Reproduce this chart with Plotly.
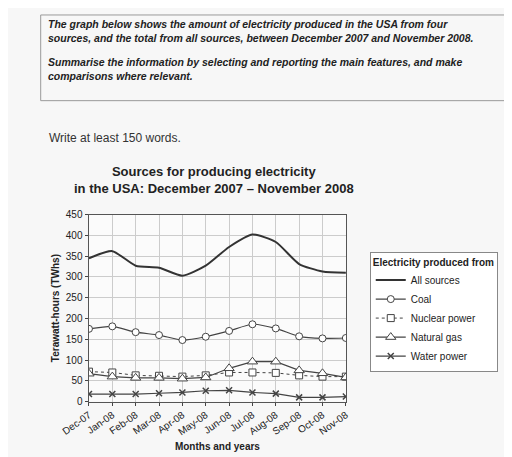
import plotly.graph_objects as go

months = ["Dec-07","Jan-08","Feb-08","Mar-08","Apr-08","May-08","Jun-08","Jul-08","Aug-08","Sep-08","Oct-08","Nov-08"]
all_sources = [345,362,327,322,303,327,372,402,384,331,313,310]
coal = [175,181,167,160,148,156,170,186,176,157,152,153]
nuclear = [72,70,63,62,60,63,70,70,69,63,60,60]
natural_gas = [67,60,57,57,55,58,80,96,96,75,68,58]
water = [18,18,18,20,22,26,27,22,19,10,10,12]
y_ticks = [0,50,100,150,200,250,300,350,400,450]

W, H = 512, 457
def px(x): return x / W
def py(y): return 1 - y / H

fig = go.Figure()
c = "#444"
fig.add_trace(go.Scatter(x=months, y=all_sources, name="All sources", mode="lines",
                         line=dict(color="#333", width=2, shape="spline", smoothing=0.6)))
fig.add_trace(go.Scatter(x=months, y=coal, name="Coal", mode="lines+markers",
                         line=dict(color=c, width=1.2, shape="spline", smoothing=0.6),
                         marker=dict(symbol="circle", size=7, color="white", line=dict(color=c, width=1))))
fig.add_trace(go.Scatter(x=months, y=nuclear, name="Nuclear power", mode="lines+markers",
                         line=dict(color=c, width=1, dash="dot"),
                         marker=dict(symbol="square", size=7, color="white", line=dict(color=c, width=1))))
fig.add_trace(go.Scatter(x=months, y=natural_gas, name="Natural gas", mode="lines+markers",
                         line=dict(color=c, width=1.2),
                         marker=dict(symbol="triangle-up", size=9, color="white", line=dict(color=c, width=1))))
fig.add_trace(go.Scatter(x=months, y=water, name="Water power", mode="lines+markers",
                         line=dict(color=c, width=1.2),
                         marker=dict(symbol="x-thin", size=6, color=c, line=dict(color=c, width=1.5))))

fig.update_layout(
    width=W, height=H, margin=dict(l=0, r=0, t=0, b=0),
    paper_bgcolor="#f7f7f7", plot_bgcolor="#fbfbfb",
    font=dict(family="Liberation Sans, Arial", color="#222", size=10),
    xaxis=dict(domain=[px(56), px(331)], range=[-0.02, 11.02], tickangle=-35,
               showgrid=True, gridcolor="#ccc", tickfont=dict(size=10),
               showline=True, linecolor="#555", mirror=True, ticks="outside", ticklen=3,
               title=dict(text="<b>Months and years</b>", font=dict(size=10), standoff=6)),
    yaxis=dict(domain=[py(398), py(206)], range=[0, 450], tickvals=y_ticks,
               showgrid=True, gridcolor="#ccc", tickfont=dict(size=10),
               showline=True, linecolor="#555", mirror=True, ticks="outside", ticklen=3,
               title=dict(text="<b>Terawatt-hours (TWhs)</b>", font=dict(size=10), standoff=4)),
    legend=dict(x=px(356), y=py(244), xanchor="left", yanchor="top",
                bgcolor="white", bordercolor="#888", borderwidth=1,
                font=dict(size=10), tracegroupgap=2,
                title=dict(text="<b>Electricity produced from</b>", font=dict(size=10))),
    shapes=[dict(type="rect", xref="paper", yref="paper", x0=px(5), x1=px(507), y0=py(89), y1=py(1),
                 line=dict(color="#999", width=1), fillcolor="rgba(0,0,0,0)")],
    annotations=[
        dict(xref="paper", yref="paper", x=px(11), y=py(2), xanchor="left", yanchor="top", align="left",
             showarrow=False, font=dict(size=10.5, color="#222"),
             text="<b><i>The graph below shows the amount of electricity produced in the USA from four<br>sources, and the total from all sources, between December 2007 and November 2008.</i></b>"),
        dict(xref="paper", yref="paper", x=px(11), y=py(41), xanchor="left", yanchor="top", align="left",
             showarrow=False, font=dict(size=10.5, color="#222"),
             text="<b><i>Summarise the information by selecting and reporting the main features, and make<br>comparisons where relevant.</i></b>"),
        dict(xref="paper", yref="paper", x=px(12), y=py(127), xanchor="left", yanchor="middle",
             showarrow=False, font=dict(size=12, color="#333"), text="Write at least 150 words."),
        dict(xref="paper", yref="paper", x=px(190), y=py(152), xanchor="center", yanchor="top",
             showarrow=False, font=dict(size=13, color="#222"),
             text="<b>Sources for producing electricity<br>in the USA: December 2007 – November 2008</b>"),
    ],
)
fig.write_html("out.html")
